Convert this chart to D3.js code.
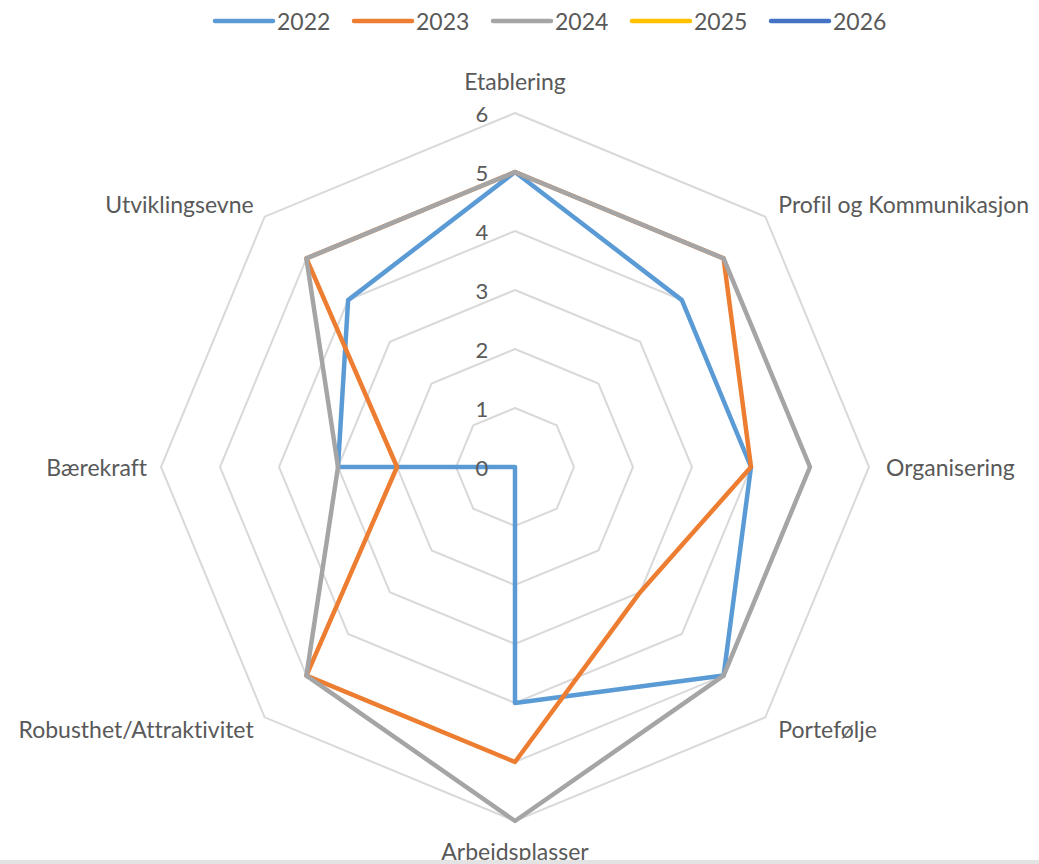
<!DOCTYPE html>
<html>
<head>
<meta charset="utf-8">
<script src="https://cdn.jsdelivr.net/npm/d3@7"></script>
<style>
  html, body { margin: 0; padding: 0; background: #fff; }
  text { font-family: Lato, "Open Sans", sans-serif; fill: #595959; font-variant-ligatures: none; }
</style>
</head>
<body>
<div id="chart"></div>
<script>
// axes, clockwise from the top
const categories = ["Etablering", "Profil og Kommunikasjon", "Organisering", "Portefølje",
  "Arbeidsplasser", "Robusthet/Attraktivitet", "Bærekraft", "Utviklingsevne"];
const years = ["2022", "2023", "2024", "2025", "2026"];
const values2022 = [5, 4, 4, 5, 4, 0, 3, 4];
const values2023 = [5, 5, 4, 3, 5, 5, 2, 5];
const values2024 = [5, 5, 5, 5, 6, 5, 3, 5];
const values2025 = [];   // no data yet, legend only
const values2026 = [];
const tickValues = [0, 1, 2, 3, 4, 5, 6];
const colors = ["#5B9BD5", "#ED7D31", "#A5A5A5", "#FFC000", "#4472C4"];

var width = 1039, height = 864;
var cx = 515, cy = 467;

var svg = d3.select("#chart").append("svg")
  .attr("width", width)
  .attr("height", height);

var r = d3.scaleLinear().domain([0, 6]).range([0, 354]);
var n = categories.length;
function angle(i) { return i * 2 * Math.PI / n; }
function pt(i, v) {
  return [cx + r(v) * Math.sin(angle(i)), cy - r(v) * Math.cos(angle(i))];
}

var g = svg.append("g");

// grid octagons
g.selectAll("polygon.grid")
  .data(tickValues.filter(d => d > 0))
  .enter().append("polygon")
  .attr("class", "grid")
  .attr("points", d => categories.map((c, i) => pt(i, d).join(",")).join(" "))
  .style("fill", "none")
  .style("stroke", "#d9d9d9")
  .style("stroke-width", 2);

// series
var series = [values2022, values2023, values2024, values2025, values2026];
var line = d3.lineRadial()
  .angle((d, i) => angle(i))
  .radius(d => r(d))
  .curve(d3.curveLinearClosed);

g.selectAll("path.series")
  .data(series.map((v, k) => ({ values: v, color: colors[k] })).filter(d => d.values.length))
  .enter().append("path")
  .attr("class", "series")
  .attr("transform", "translate(" + cx + "," + cy + ")")
  .attr("d", d => line(d.values))
  .style("fill", "none")
  .style("stroke", d => d.color)
  .style("stroke-width", 4.5)
  .style("stroke-linejoin", "round");

// tick labels along the top axis
g.selectAll("text.tick")
  .data(tickValues)
  .enter().append("text")
  .attr("class", "tick")
  .attr("x", cx - 33)
  .attr("y", d => cy - r(d))
  .attr("text-anchor", "middle")
  .attr("dominant-baseline", "central")
  .style("font-size", "22px")
  .text(d => d);

// category labels
g.selectAll("text.cat")
  .data(categories)
  .enter().append("text")
  .attr("class", "cat")
  .attr("x", (d, i) => {
    var p = pt(i, 6), s = Math.sin(angle(i));
    if (s > 0.9) return p[0] + 17;
    if (s > 0.1) return p[0] + 13;
    if (s < -0.9) return p[0] - 14;
    if (s < -0.1) return p[0] - 11;
    return p[0];
  })
  .attr("y", (d, i) => {
    var p = pt(i, 6), c = Math.cos(angle(i));
    if (c > 0.9) return p[1] - 32;
    if (c < -0.9) return p[1] + 30;
    if (c > 0.1) return p[1] - 13;
    if (c < -0.1) return p[1] + 12;
    return p[1];
  })
  .attr("text-anchor", (d, i) => {
    var s = Math.sin(angle(i));
    return s > 0.1 ? "start" : (s < -0.1 ? "end" : "middle");
  })
  .attr("dominant-baseline", "central")
  .style("font-size", "23px")
  .text(d => d);

// legend
var legend = svg.append("g").attr("transform", "translate(213,21)");
var item = legend.selectAll("g")
  .data(years)
  .enter().append("g")
  .attr("transform", (d, i) => "translate(" + i * 139 + ",0)");
item.append("line")
  .attr("x1", 2).attr("x2", 60)
  .attr("y1", 0).attr("y2", 0)
  .style("stroke", (d, i) => colors[i])
  .style("stroke-width", 4.5)
  .style("stroke-linecap", "round");
item.append("text")
  .attr("x", 64)
  .attr("y", 0)
  .attr("dominant-baseline", "central")
  .style("font-size", "23px")
  .text(d => d);

// bottom border
svg.append("rect")
  .attr("x", 0).attr("y", 860)
  .attr("width", width).attr("height", 4)
  .style("fill", "#e3e3e3");
</script>
</body>
</html>
